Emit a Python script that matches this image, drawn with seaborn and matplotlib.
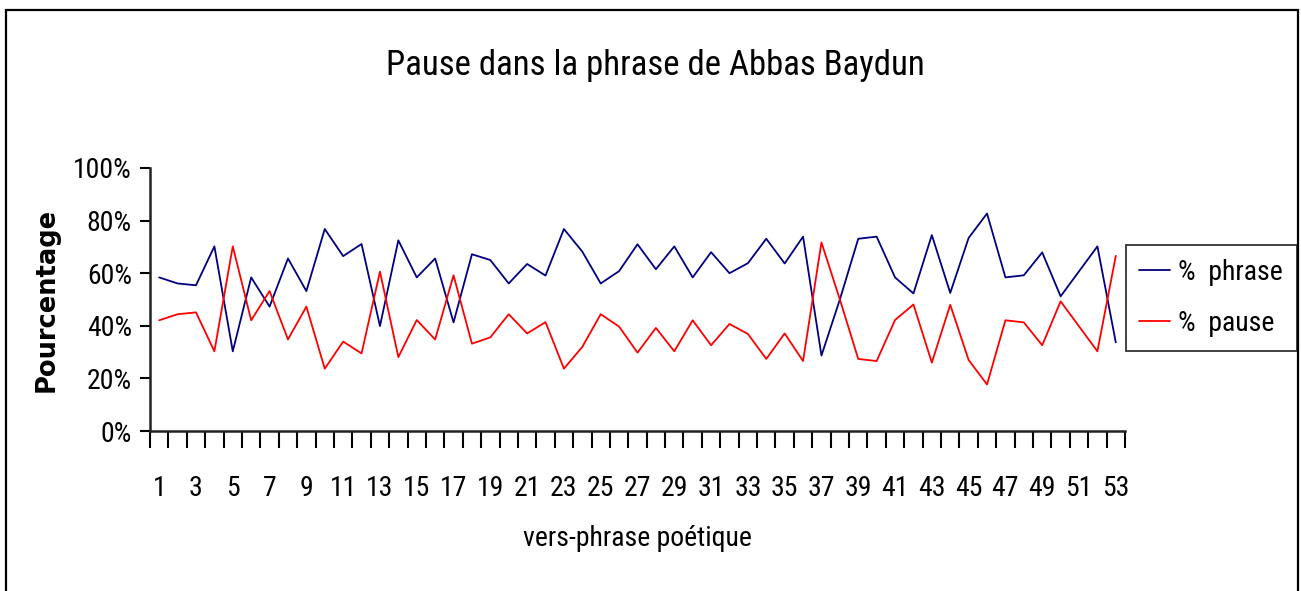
import numpy as np
import pandas as pd
import matplotlib
matplotlib.use('Agg')
import matplotlib.pyplot as plt
import seaborn as sns
from matplotlib import font_manager
from matplotlib.patches import Rectangle

# data (fractions, 53 verses)
vers = list(range(1, 54))
phrase = [0.584, 0.561, 0.554, 0.702, 0.303, 0.584, 0.473, 0.656, 0.532, 0.768,
          0.665, 0.711, 0.399, 0.725, 0.584, 0.656, 0.413, 0.672, 0.650, 0.561,
          0.635, 0.591, 0.768, 0.682, 0.561, 0.608, 0.710, 0.615, 0.702, 0.584,
          0.680, 0.600, 0.638, 0.731, 0.637, 0.739, 0.287, 0.500, 0.731, 0.739,
          0.584, 0.523, 0.745, 0.525, 0.734, 0.827, 0.584, 0.592, 0.679, 0.512,
          0.607, 0.702, 0.337]
pause = [0.421, 0.444, 0.451, 0.303, 0.702, 0.421, 0.532, 0.348, 0.473, 0.237,
         0.340, 0.295, 0.606, 0.281, 0.422, 0.348, 0.592, 0.332, 0.356, 0.444,
         0.371, 0.414, 0.237, 0.320, 0.444, 0.397, 0.298, 0.392, 0.303, 0.421,
         0.326, 0.407, 0.369, 0.274, 0.371, 0.266, 0.717, 0.500, 0.274, 0.266,
         0.422, 0.481, 0.260, 0.480, 0.270, 0.177, 0.421, 0.413, 0.326, 0.493,
         0.398, 0.303, 0.666]
series = ['%  phrase', '%  pause']
colors = ['#000080', '#ff0000']

df = pd.DataFrame({
    'vers': vers * 2,
    'valeur': phrase + pause,
    'serie': [series[0]] * len(vers) + [series[1]] * len(vers),
})

sns.set_style('white')
names = {f.name for f in font_manager.fontManager.ttflist}
# the original uses a narrow Arial-like face; take a condensed one if present
narrow = None
for cand in ['Liberation Sans Narrow', 'Arial Narrow', 'Roboto Condensed',
             'DejaVu Sans Condensed', 'Open Sans Condensed']:
    if cand in names:
        narrow = cand
        break
if narrow is None:
    narrow = 'Liberation Sans'
    fs = 17
else:
    fs = 20
plt.rcParams['font.family'] = [narrow, 'DejaVu Sans']
plt.rcParams['text.color'] = 'black'
plt.rcParams['axes.labelcolor'] = 'black'
plt.rcParams['xtick.color'] = 'black'
plt.rcParams['ytick.color'] = 'black'

fig = plt.figure(figsize=(13.01, 5.91), dpi=100)
fig.patch.set_facecolor('white')
ax = fig.add_axes([150 / 1301, 1 - 431 / 591, 975 / 1301, 263 / 591])

sns.lineplot(data=df, x='vers', y='valeur', hue='serie', palette=colors,
             linewidth=1.3, legend=False, ax=ax)

ax.set_xlim(0.5, 53.5)
ax.set_ylim(0, 1)

# y axis
ax.set_yticks(np.linspace(0, 1, 6))
ax.set_yticklabels([f'{int(round(v * 100))}%' for v in np.linspace(0, 1, 6)], fontsize=fs)
ax.tick_params(axis='y', which='major', direction='out', length=7, width=1.5, pad=6, left=True)

# x axis: ticks between categories, labels on odd verses
ax.set_xticks(np.arange(0.5, 54, 1), minor=True)
ax.set_xticks(vers[::2])
ax.set_xticklabels([str(v) for v in vers[::2]], fontsize=fs)
ax.tick_params(axis='x', which='major', length=0, pad=32)
ax.tick_params(axis='x', which='minor', direction='out', length=12, width=1.5, bottom=True)

for side in ['top', 'right']:
    ax.spines[side].set_visible(False)
for side in ['left', 'bottom']:
    ax.spines[side].set_color('#222222')
    ax.spines[side].set_linewidth(1.8)

ax.set_xlabel('vers-phrase poétique', fontsize=fs)
ax.set_ylabel('Pourcentage', fontsize=18.5, fontweight='bold', family='DejaVu Sans')
ax.yaxis.set_label_coords(-0.093, 0.5)
ax.xaxis.set_label_coords(0.5, -(538 - 431) / 263)
ax.xaxis.label.set_va('center')

fig.text(655 / 1301, 1 - 65 / 591, 'Pause dans la phrase de Abbas Baydun',
         ha='center', va='center', fontsize=fs + 5)

# legend, anchored by its right edge
handles = ax.get_lines()[:2]
leg = fig.legend(handles, series, loc='center right',
                 bbox_to_anchor=(1297 / 1301, 1 - 298 / 591),
                 fontsize=fs, frameon=True, fancybox=False,
                 handlelength=1.1, handletextpad=0.3, labelspacing=0.85,
                 borderpad=0.5, borderaxespad=0)
leg.get_frame().set_edgecolor('black')
leg.get_frame().set_linewidth(1.3)

# outer chart border
fig.patches.append(Rectangle((6 / 1301, -0.05), 1292 / 1301, 1.05 - 10 / 591,
                             transform=fig.transFigure, fill=False,
                             edgecolor='black', linewidth=1.6))

fig.savefig('out.png', dpi=100)
